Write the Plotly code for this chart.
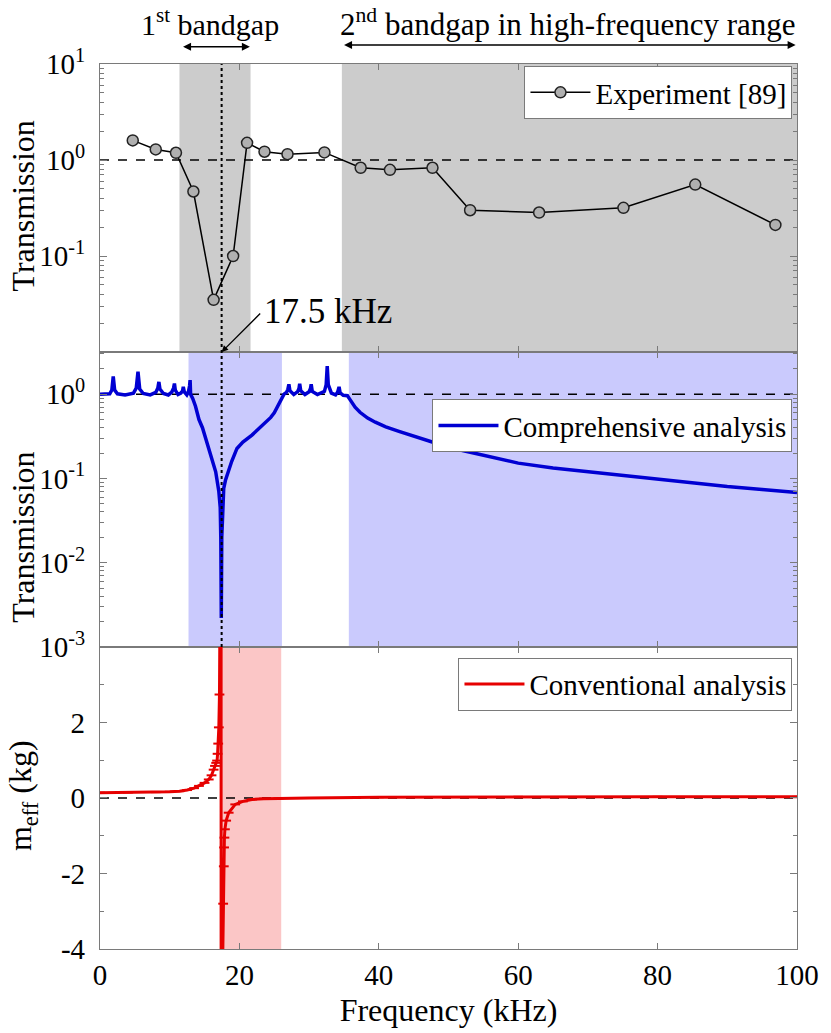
import plotly.graph_objects as go

# ---------------- data ----------------
exp_freq = [4.7, 8.0, 10.9, 13.4, 16.3, 19.1, 21.1, 23.6, 26.9, 32.2,
            37.4, 41.6, 47.7, 53.1, 63.0, 75.1, 85.4, 96.9]
exp_trans = [1.60, 1.29, 1.19, 0.47, 0.035, 0.10, 1.51, 1.22, 1.15, 1.20,
             0.83, 0.79, 0.83, 0.30, 0.284, 0.318, 0.555, 0.211]

comp_freq = [0.0, 1.4, 1.7, 1.9, 2.1, 2.5, 3.6, 4.8, 5.2, 5.45, 5.7, 6.2,
             7.2, 8.0, 8.3, 8.45, 8.6, 9.1, 9.8, 10.3, 10.55, 10.68, 10.8,
             11.2, 11.6, 11.85, 11.95, 12.1, 12.45, 12.7, 12.85, 12.93, 13.0,
             13.3, 13.7, 14.2, 14.7, 15.1, 15.6, 16.1, 16.6, 17.05, 17.25, 17.33,
             17.4, 17.47, 17.6, 17.75, 18.0, 18.5, 18.9, 19.65, 20.5, 21.8, 22.8,
             23.9, 24.5, 25.0, 25.6, 26.0, 26.4, 26.75,
             26.95, 27.1, 27.25, 27.8, 28.35, 28.55, 28.65, 28.8, 29.4, 30.0,
             30.2, 30.3, 30.45, 31.2, 32.2, 32.45, 32.6, 32.75, 33.2, 33.8,
             34.1, 34.3, 34.45, 34.9, 35.5, 35.8, 36.2, 36.6, 37.3, 38.4, 39.5,
             41.0, 43.0, 45.5, 48.0, 52.0, 56.0, 60.0, 65.0, 70.0, 75.0, 80.0,
             85.0, 90.0, 95.0, 100.0]
comp_trans = [1.0, 1.01, 1.12, 1.63, 1.12, 1.01, 0.98, 1.03, 1.18, 1.85, 1.15, 1.02,
              0.98, 1.05, 1.18, 1.40, 1.15, 1.02, 0.98, 1.06, 1.18, 1.34, 1.12,
              0.99, 1.03, 1.10, 1.22, 1.06, 0.98, 1.08, 1.25, 1.47, 1.0,
              0.89, 0.72, 0.50, 0.40, 0.31, 0.23, 0.165, 0.12, 0.07, 0.045, 0.02,
              0.0022, 0.02, 0.05, 0.076, 0.095, 0.13, 0.16, 0.227, 0.27, 0.327, 0.39,
              0.47, 0.53, 0.60, 0.74, 0.88, 1.0, 1.05,
              1.14, 1.31, 1.10, 0.99, 1.07, 1.17, 1.33, 1.10, 0.99, 1.07,
              1.17, 1.31, 1.08, 0.99, 1.08, 1.30, 2.15, 1.30, 1.03, 0.98,
              1.06, 1.22, 1.04, 0.97, 0.96, 0.88, 0.78, 0.70, 0.61, 0.52, 0.465,
              0.41, 0.36, 0.305, 0.265, 0.215, 0.18, 0.152, 0.133, 0.12, 0.107, 0.096,
              0.087, 0.08, 0.074, 0.068]

conv_freq = [0, 4, 8, 10, 11.4, 12.5, 13.5, 14.2, 15.0, 15.6, 16.0, 16.3, 16.5,
             16.67, 16.8, 16.87, 16.96, 17.05, 17.14, 17.25, 17.37, 17.38, 17.55,
             17.67, 17.76, 17.8, 17.85, 17.92, 18.1, 18.46, 19.4, 20.5, 21.8,
             23.5, 25.6, 30, 40, 60, 80, 100]
conv_meff = [0.14, 0.145, 0.155, 0.165, 0.18, 0.21, 0.26, 0.32, 0.40, 0.49, 0.60,
             0.75, 0.85, 0.93, 0.99, 1.17, 1.44, 1.87, 2.74, 6.0, 60, -60, -5.0,
             -2.8, -1.81, -1.31, -1.05, -0.83, -0.60, -0.39, -0.17, -0.09, -0.04,
             -0.02, -0.01, 0.0, 0.02, 0.03, 0.03, 0.03]

exp_gaps = [(11.4, 21.6), (34.7, 100)]
comp_gaps = [(12.7, 26.1), (35.7, 100)]
conv_gaps = [(17.4, 26.0)]
f_res = 17.45
freq_ticks = [0, 20, 40, 60, 80, 100]
meff_ticks = [-4, -2, 0, 2]
meff_ticktext = ["-4", "-2", "0", "2"]

# ---------------- figure ----------------
FONT = "Liberation Serif, Times New Roman, Times, DejaVu Serif, serif"
BLUE = "#0000d2"
RED = "#e60000"
AX = "#7a7a7a"

d3 = [0.0, 0.3413]
d2 = [0.3413, 0.6745]
d1 = [0.6745, 1.0]

log_minor_vals = [m * 10.0 ** e for e in range(-3, 1) for m in range(2, 10)]

fig = go.Figure()

# reference lines
fig.add_trace(go.Scatter(x=[0, 100], y=[1, 1], mode="lines", xaxis="x", yaxis="y",
                         line=dict(color="black", width=1.5, dash="dash"), showlegend=False,
                         hoverinfo="skip"))
fig.add_trace(go.Scatter(x=[0, 100], y=[1, 1], mode="lines", xaxis="x2", yaxis="y2",
                         line=dict(color="black", width=1.5, dash="dash"), showlegend=False,
                         hoverinfo="skip"))
fig.add_trace(go.Scatter(x=[0, 100], y=[0, 0], mode="lines", xaxis="x3", yaxis="y3",
                         line=dict(color="black", width=1.5, dash="dash"), showlegend=False,
                         hoverinfo="skip"))

fig.add_trace(go.Scatter(x=exp_freq, y=exp_trans, mode="lines+markers", name="Experiment [89]",
                         xaxis="x", yaxis="y", legend="legend",
                         line=dict(color="black", width=1.5),
                         marker=dict(symbol="circle", size=11, color="#b0b0b0",
                                     line=dict(color="#222222", width=1.5))))
fig.add_trace(go.Scatter(x=comp_freq, y=comp_trans, mode="lines", name="Comprehensive analysis",
                         xaxis="x2", yaxis="y2", legend="legend2",
                         line=dict(color=BLUE, width=3.5)))
fig.add_trace(go.Scatter(x=conv_freq, y=conv_meff, mode="lines", name="Conventional analysis",
                         xaxis="x3", yaxis="y3", legend="legend3",
                         line=dict(color=RED, width=3)))
fig.add_trace(go.Scatter(x=conv_freq, y=conv_meff, mode="markers", showlegend=False,
                         xaxis="x3", yaxis="y3",
                         marker=dict(symbol="line-ew-open", size=7, color=RED,
                                     line=dict(color=RED, width=2))))

shapes = []
for a, b in exp_gaps:
    shapes.append(dict(type="rect", xref="x", yref="y domain", x0=a, x1=b, y0=0, y1=1,
                       fillcolor="#cccccc", line=dict(width=0), layer="below"))
for a, b in comp_gaps:
    shapes.append(dict(type="rect", xref="x2", yref="y2 domain", x0=a, x1=b, y0=0, y1=1,
                       fillcolor="#cacafd", line=dict(width=0), layer="below"))
for a, b in conv_gaps:
    shapes.append(dict(type="rect", xref="x3", yref="y3 domain", x0=a, x1=b, y0=0, y1=1,
                       fillcolor="#fbc6c6", line=dict(width=0), layer="below"))
shapes.append(dict(type="line", xref="x", yref="paper", x0=f_res, x1=f_res, y0=d2[0], y1=1,
                   line=dict(color="black", width=2, dash="dot"), layer="above"))


def ytitle(text, ypix):
    return dict(text=text, xref="paper", yref="paper", x=(22 - 100) / 704, y=(951 - ypix) / 887,
                xanchor="center", yanchor="middle", textangle=-90, showarrow=False,
                font=dict(family=FONT, size=32, color="black"))


annotations = [
    dict(text="1<sup>st</sup> bandgap", xref="x", yref="paper", x=15.8, y=(951 - 22) / 887,
         xanchor="center", yanchor="middle", showarrow=False,
         font=dict(family=FONT, size=30, color="black")),
    dict(text="2<sup>nd</sup> bandgap in high-frequency range", xref="x", yref="paper",
         x=67.1, y=(951 - 22) / 887, xanchor="center", yanchor="middle",
         showarrow=False, font=dict(family=FONT, size=31, color="black")),
    dict(text="", xref="x", yref="paper", x=21.5, y=(951 - 46.7) / 887, axref="x", ayref="pixel",
         ax=11.7, ay=0, showarrow=True, arrowhead=2, arrowside="end+start",
         arrowsize=1, arrowwidth=1.6, arrowcolor="black"),
    dict(text="", xref="x", yref="paper", x=99.8, y=(951 - 45) / 887, axref="x", ayref="pixel",
         ax=34.8, ay=0, showarrow=True, arrowhead=2, arrowside="end+start",
         arrowsize=1, arrowwidth=1.6, arrowcolor="black"),
    dict(text="17.5 kHz", xref="x", yref="paper", x=23.2, y=(951 - 312) / 887,
         xanchor="left", yanchor="middle", showarrow=False,
         font=dict(family=FONT, size=35, color="black")),
    dict(text="", xref="x", yref="paper", x=f_res, y=d1[0], axref="x", ayref="pixel",
         ax=23.2, ay=-40, showarrow=True, arrowhead=2, arrowsize=1, arrowwidth=1.3,
         arrowcolor="black"),
    ytitle("Transmission", 206),
    ytitle("Transmission", 538),
    ytitle("m<sub>eff</sub> (kg)", 797),
]

common_x = dict(range=[0, 100], tickvals=freq_ticks, ticks="inside", ticklen=6,
                tickcolor=AX, showline=True, linecolor=AX, linewidth=1.2, mirror="ticks",
                showgrid=False, zeroline=False)
common_y = dict(ticks="inside", ticklen=7, tickcolor=AX, showline=True, linecolor=AX,
                linewidth=1.2, mirror="ticks", showgrid=False, zeroline=False,
                tickfont=dict(family=FONT, size=29, color="black"), ticklabelstandoff=8)
log_minor = dict(ticks="inside", ticklen=4, tickcolor=AX, tickvals=log_minor_vals, showgrid=False)
legend_common = dict(xanchor="right", yanchor="top", bgcolor="white", bordercolor=AX,
                     borderwidth=1, font=dict(family=FONT, size=29, color="black"), itemwidth=60)
LEG_X = 0.9935

fig.update_layout(
    width=831, height=1033,
    margin=dict(l=100, r=27, t=64, b=82),
    paper_bgcolor="white", plot_bgcolor="white",
    font=dict(family=FONT, color="black", size=29),
    xaxis=dict(**common_x, domain=[0, 1], anchor="y", matches="x3", showticklabels=False),
    xaxis2=dict(**common_x, domain=[0, 1], anchor="y2", matches="x3", showticklabels=False),
    xaxis3=dict(**common_x, domain=[0, 1], anchor="y3",
                tickfont=dict(family=FONT, size=29, color="black"),
                title=dict(text="Frequency (kHz)", font=dict(family=FONT, size=32, color="black"),
                           standoff=8)),
    yaxis=dict(**common_y, domain=d1, anchor="x", type="log", range=[-2, 1],
               tickvals=[10, 1, 0.1], ticktext=["10<sup>1</sup>", "10<sup>0</sup>", "10<sup>-1</sup>"],
               minor=log_minor),
    yaxis2=dict(**common_y, domain=d2, anchor="x2", type="log", range=[-3, 0.5],
                tickvals=[1, 0.1, 0.01, 0.001],
                ticktext=["10<sup>0</sup>", "10<sup>-1</sup>", "10<sup>-2</sup>", "10<sup>-3</sup>"],
                minor=log_minor),
    yaxis3=dict(**common_y, domain=d3, anchor="x3", range=[-4, 4], tickvals=meff_ticks,
                ticktext=meff_ticktext,
                minor=dict(ticks="inside", ticklen=4, tickcolor=AX, tickvals=[-3, -1, 1, 3, 4],
                           showgrid=False)),
    legend=dict(**legend_common, x=LEG_X, y=(951 - 66) / 887),
    legend2=dict(**legend_common, x=LEG_X, y=(951 - 400) / 887),
    legend3=dict(**legend_common, x=LEG_X, y=(951 - 659) / 887),
    shapes=shapes,
    annotations=annotations,
    showlegend=True,
)

fig.write_html("out.html")
